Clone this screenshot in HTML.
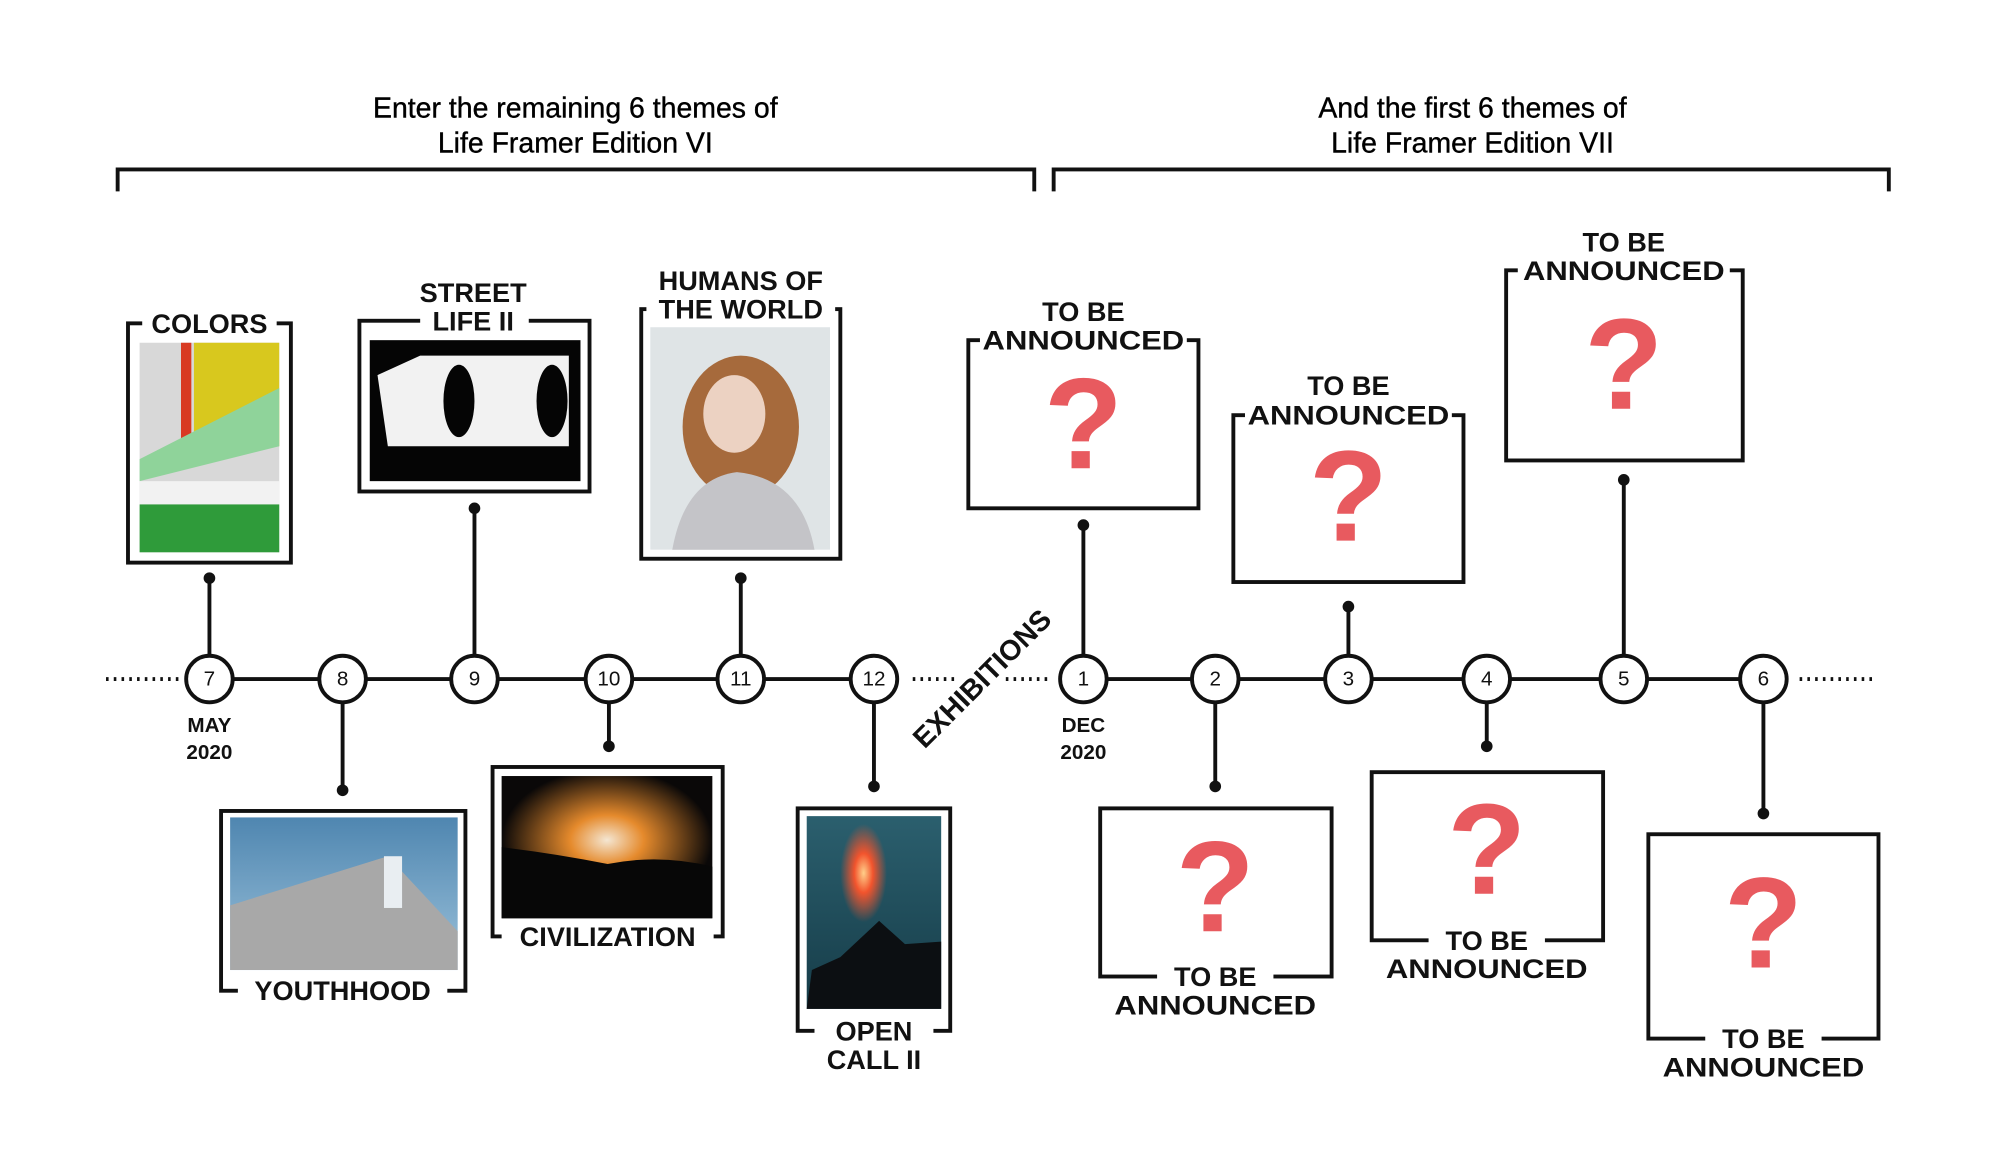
<!DOCTYPE html>
<html><head><meta charset="utf-8"><style>
html,body{margin:0;padding:0;background:#fff;}
svg{display:block;}
text{font-family:"Liberation Sans",sans-serif;fill:#111;}
.lb{font-size:21px;font-weight:bold;text-anchor:middle;dominant-baseline:central;}
.tt{font-size:22px;text-anchor:middle;dominant-baseline:central;fill:#000;stroke:#000;stroke-width:0.3;}
.nm{font-size:16px;text-anchor:middle;dominant-baseline:central;}
.dt{font-size:16px;font-weight:bold;text-anchor:middle;dominant-baseline:central;}
.q{font-size:100px;font-weight:bold;fill:#e85a5f;text-anchor:middle;dominant-baseline:central;}
.fr{fill:none;stroke:#111;stroke-width:3;}
.ln{stroke:#111;stroke-width:3;}
.dot{stroke:#111;stroke-width:3;stroke-dasharray:2 4;}
.wb{fill:#fff;}
</style></head><body>
<svg width="2000" height="1155" viewBox="0 0 1547 893" preserveAspectRatio="none" xmlns="http://www.w3.org/2000/svg">
<defs>
<radialGradient id="glow" cx="0.5" cy="0.45" r="0.5"><stop offset="0" stop-color="#f4e6d2"/><stop offset="0.35" stop-color="#e58a2c"/><stop offset="1" stop-color="#0a0808"/></radialGradient>
<linearGradient id="sky" x1="0" y1="0" x2="0" y2="1"><stop offset="0" stop-color="#4f86b0"/><stop offset="1" stop-color="#9cc2db"/></linearGradient>
<linearGradient id="teal" x1="0" y1="0" x2="0" y2="1"><stop offset="0" stop-color="#2b5f6e"/><stop offset="1" stop-color="#163c48"/></linearGradient>
<radialGradient id="flare" cx="0.5" cy="0.5" r="0.5"><stop offset="0" stop-color="#ffcf8a"/><stop offset="0.4" stop-color="#f2542d"/><stop offset="1" stop-color="#f2542d" stop-opacity="0"/></radialGradient>
</defs>

<text class="tt" x="445" y="84">Enter the remaining 6 themes of</text>
<text class="tt" x="445" y="111">Life Framer Edition VI</text>
<text class="tt" x="1139" y="84">And the first 6 themes of</text>
<text class="tt" x="1139" y="111">Life Framer Edition VII</text>
<polyline class="fr" points="91,148 91,131 800,131 800,148"/>
<polyline class="fr" points="815,148 815,131 1461,131 1461,148"/>

<line class="dot" x1="82" y1="525" x2="140" y2="525"/>
<line class="ln" x1="162" y1="525" x2="676" y2="525"/>
<line class="dot" x1="706" y1="525" x2="740" y2="525"/>
<line class="dot" x1="778" y1="525" x2="812" y2="525"/>
<line class="ln" x1="838" y1="525" x2="1364" y2="525"/>
<line class="dot" x1="1392" y1="525" x2="1450" y2="525"/>
<text class="dt" x="760" y="525" transform="rotate(-45 760 525)" style="font-size:22px">EXHIBITIONS</text>

<g>
<line class="ln" x1="162" y1="447" x2="162" y2="525"/><circle cx="162" cy="447" r="4.5" fill="#111"/>
<line class="ln" x1="367" y1="393" x2="367" y2="525"/><circle cx="367" cy="393" r="4.5" fill="#111"/>
<line class="ln" x1="573" y1="447" x2="573" y2="525"/><circle cx="573" cy="447" r="4.5" fill="#111"/>
<line class="ln" x1="265" y1="525" x2="265" y2="611"/><circle cx="265" cy="611" r="4.5" fill="#111"/>
<line class="ln" x1="471" y1="525" x2="471" y2="577"/><circle cx="471" cy="577" r="4.5" fill="#111"/>
<line class="ln" x1="676" y1="525" x2="676" y2="608"/><circle cx="676" cy="608" r="4.5" fill="#111"/>
<line class="ln" x1="838" y1="406" x2="838" y2="525"/><circle cx="838" cy="406" r="4.5" fill="#111"/>
<line class="ln" x1="1043" y1="469" x2="1043" y2="525"/><circle cx="1043" cy="469" r="4.5" fill="#111"/>
<line class="ln" x1="1256" y1="371" x2="1256" y2="525"/><circle cx="1256" cy="371" r="4.5" fill="#111"/>
<line class="ln" x1="940" y1="525" x2="940" y2="608"/><circle cx="940" cy="608" r="4.5" fill="#111"/>
<line class="ln" x1="1150" y1="525" x2="1150" y2="577"/><circle cx="1150" cy="577" r="4.5" fill="#111"/>
<line class="ln" x1="1364" y1="525" x2="1364" y2="629"/><circle cx="1364" cy="629" r="4.5" fill="#111"/>
</g>

<g stroke="#111" stroke-width="3" fill="#fff">
<circle cx="162" cy="525" r="18"/><circle cx="265" cy="525" r="18"/><circle cx="367" cy="525" r="18"/>
<circle cx="471" cy="525" r="18"/><circle cx="573" cy="525" r="18"/><circle cx="676" cy="525" r="18"/>
<circle cx="838" cy="525" r="18"/><circle cx="940" cy="525" r="18"/><circle cx="1043" cy="525" r="18"/>
<circle cx="1150" cy="525" r="18"/><circle cx="1256" cy="525" r="18"/><circle cx="1364" cy="525" r="18"/>
</g>
<text class="nm" x="162" y="525">7</text><text class="nm" x="265" y="525">8</text><text class="nm" x="367" y="525">9</text>
<text class="nm" x="471" y="525">10</text><text class="nm" x="573" y="525">11</text><text class="nm" x="676" y="525">12</text>
<text class="nm" x="838" y="525">1</text><text class="nm" x="940" y="525">2</text><text class="nm" x="1043" y="525">3</text>
<text class="nm" x="1150" y="525">4</text><text class="nm" x="1256" y="525">5</text><text class="nm" x="1364" y="525">6</text>
<text class="dt" x="162" y="561">MAY</text><text class="dt" x="162" y="582">2020</text>
<text class="dt" x="838" y="561">DEC</text><text class="dt" x="838" y="582">2020</text>

<rect class="fr" x="99" y="250" width="126" height="185"/>
<rect x="108" y="265" width="108" height="162" fill="#d8d8d8"/>
<rect x="150" y="265" width="66" height="80" fill="#d8c81e"/>
<rect x="140" y="265" width="8" height="80" fill="#d83a22"/>
<polygon points="108,355 216,300 216,345 108,372" fill="#8fd39a"/>
<rect x="108" y="372" width="108" height="18" fill="#f2f2f2"/>
<rect x="108" y="390" width="108" height="37" fill="#2f9b3a"/>
<rect class="wb" x="110" y="238" width="104" height="24"/>
<text class="lb" x="162" y="250">COLORS</text>

<rect class="fr" x="278" y="248" width="178" height="132"/>
<rect x="286" y="263" width="163" height="109" fill="#050505"/>
<polygon points="292,290 325,275 440,275 440,345 300,345" fill="#f2f2f2"/>
<ellipse cx="355" cy="310" rx="12" ry="28" fill="#050505"/>
<ellipse cx="427" cy="310" rx="12" ry="28" fill="#050505"/>
<rect class="wb" x="325" y="236" width="84" height="24"/>
<text class="lb" x="366" y="226">STREET</text>
<text class="lb" x="366" y="248">LIFE II</text>

<rect class="fr" x="496" y="239" width="154" height="193"/>
<rect x="503" y="253" width="139" height="172" fill="#dfe4e6"/>
<ellipse cx="573" cy="330" rx="45" ry="55" fill="#a66a3c"/>
<ellipse cx="568" cy="320" rx="24" ry="30" fill="#ecd2c2"/>
<path d="M520,425 Q530,370 570,365 Q620,370 630,425 Z" fill="#c4c4c8"/>
<rect class="wb" x="500" y="228" width="146" height="22"/>
<text class="lb" x="573" y="217">HUMANS OF</text>
<text class="lb" x="573" y="239">THE WORLD</text>

<rect class="fr" x="171" y="627" width="189" height="139"/>
<rect x="178" y="632" width="176" height="118" fill="url(#sky)"/>
<polygon points="178,700 300,662 354,720 354,750 178,750" fill="#a8a8a8"/>
<rect x="297" y="662" width="14" height="40" fill="#e9eef2"/>
<rect class="wb" x="184" y="754" width="162" height="24"/>
<text class="lb" x="265" y="766">YOUTHHOOD</text>

<rect class="fr" x="381" y="593" width="178" height="131"/>
<rect x="388" y="600" width="163" height="110" fill="url(#glow)"/>
<path d="M388,655 Q430,660 470,668 Q510,660 551,670 L551,710 L388,710 Z" fill="#070707"/>
<rect class="wb" x="388" y="712" width="164" height="24"/>
<text class="lb" x="470" y="724">CIVILIZATION</text>

<rect class="fr" x="617" y="625" width="118" height="172"/>
<rect x="624" y="631" width="104" height="149" fill="url(#teal)"/>
<ellipse cx="668" cy="675" rx="18" ry="38" fill="url(#flare)"/>
<path d="M624,780 L628,750 L650,740 L680,712 L700,730 L728,728 L728,780 Z" fill="#0c0f12"/>
<rect class="wb" x="630" y="785" width="92" height="24"/>
<text class="lb" x="676" y="797">OPEN</text>
<text class="lb" x="676" y="819">CALL II</text>

<rect class="fr" x="749" y="263" width="178" height="130"/>
<rect class="wb" x="758" y="251" width="160" height="24"/>
<text class="lb" x="838" y="241">TO BE</text>
<text class="lb" x="838" y="263" textLength="156" lengthAdjust="spacingAndGlyphs">ANNOUNCED</text>
<text class="q" x="838" y="328">?</text>

<rect class="fr" x="954" y="321" width="178" height="129"/>
<rect class="wb" x="963" y="309" width="160" height="24"/>
<text class="lb" x="1043" y="298">TO BE</text>
<text class="lb" x="1043" y="321" textLength="156" lengthAdjust="spacingAndGlyphs">ANNOUNCED</text>
<text class="q" x="1043" y="384">?</text>

<rect class="fr" x="1165" y="209" width="183" height="147"/>
<rect class="wb" x="1174" y="197" width="164" height="24"/>
<text class="lb" x="1256" y="187">TO BE</text>
<text class="lb" x="1256" y="209" textLength="156" lengthAdjust="spacingAndGlyphs">ANNOUNCED</text>
<text class="q" x="1256" y="282">?</text>

<rect class="fr" x="851" y="625" width="179" height="130"/>
<rect class="wb" x="895" y="743" width="90" height="24"/>
<text class="lb" x="940" y="755">TO BE</text>
<text class="lb" x="940" y="777" textLength="156" lengthAdjust="spacingAndGlyphs">ANNOUNCED</text>
<text class="q" x="940" y="686">?</text>

<rect class="fr" x="1061" y="597" width="179" height="130"/>
<rect class="wb" x="1105" y="715" width="90" height="24"/>
<text class="lb" x="1150" y="727">TO BE</text>
<text class="lb" x="1150" y="749" textLength="156" lengthAdjust="spacingAndGlyphs">ANNOUNCED</text>
<text class="q" x="1150" y="657">?</text>

<rect class="fr" x="1275" y="645" width="178" height="158"/>
<rect class="wb" x="1319" y="791" width="90" height="24"/>
<text class="lb" x="1364" y="803">TO BE</text>
<text class="lb" x="1364" y="825" textLength="156" lengthAdjust="spacingAndGlyphs">ANNOUNCED</text>
<text class="q" x="1364" y="714">?</text>
</svg>
</body></html>
